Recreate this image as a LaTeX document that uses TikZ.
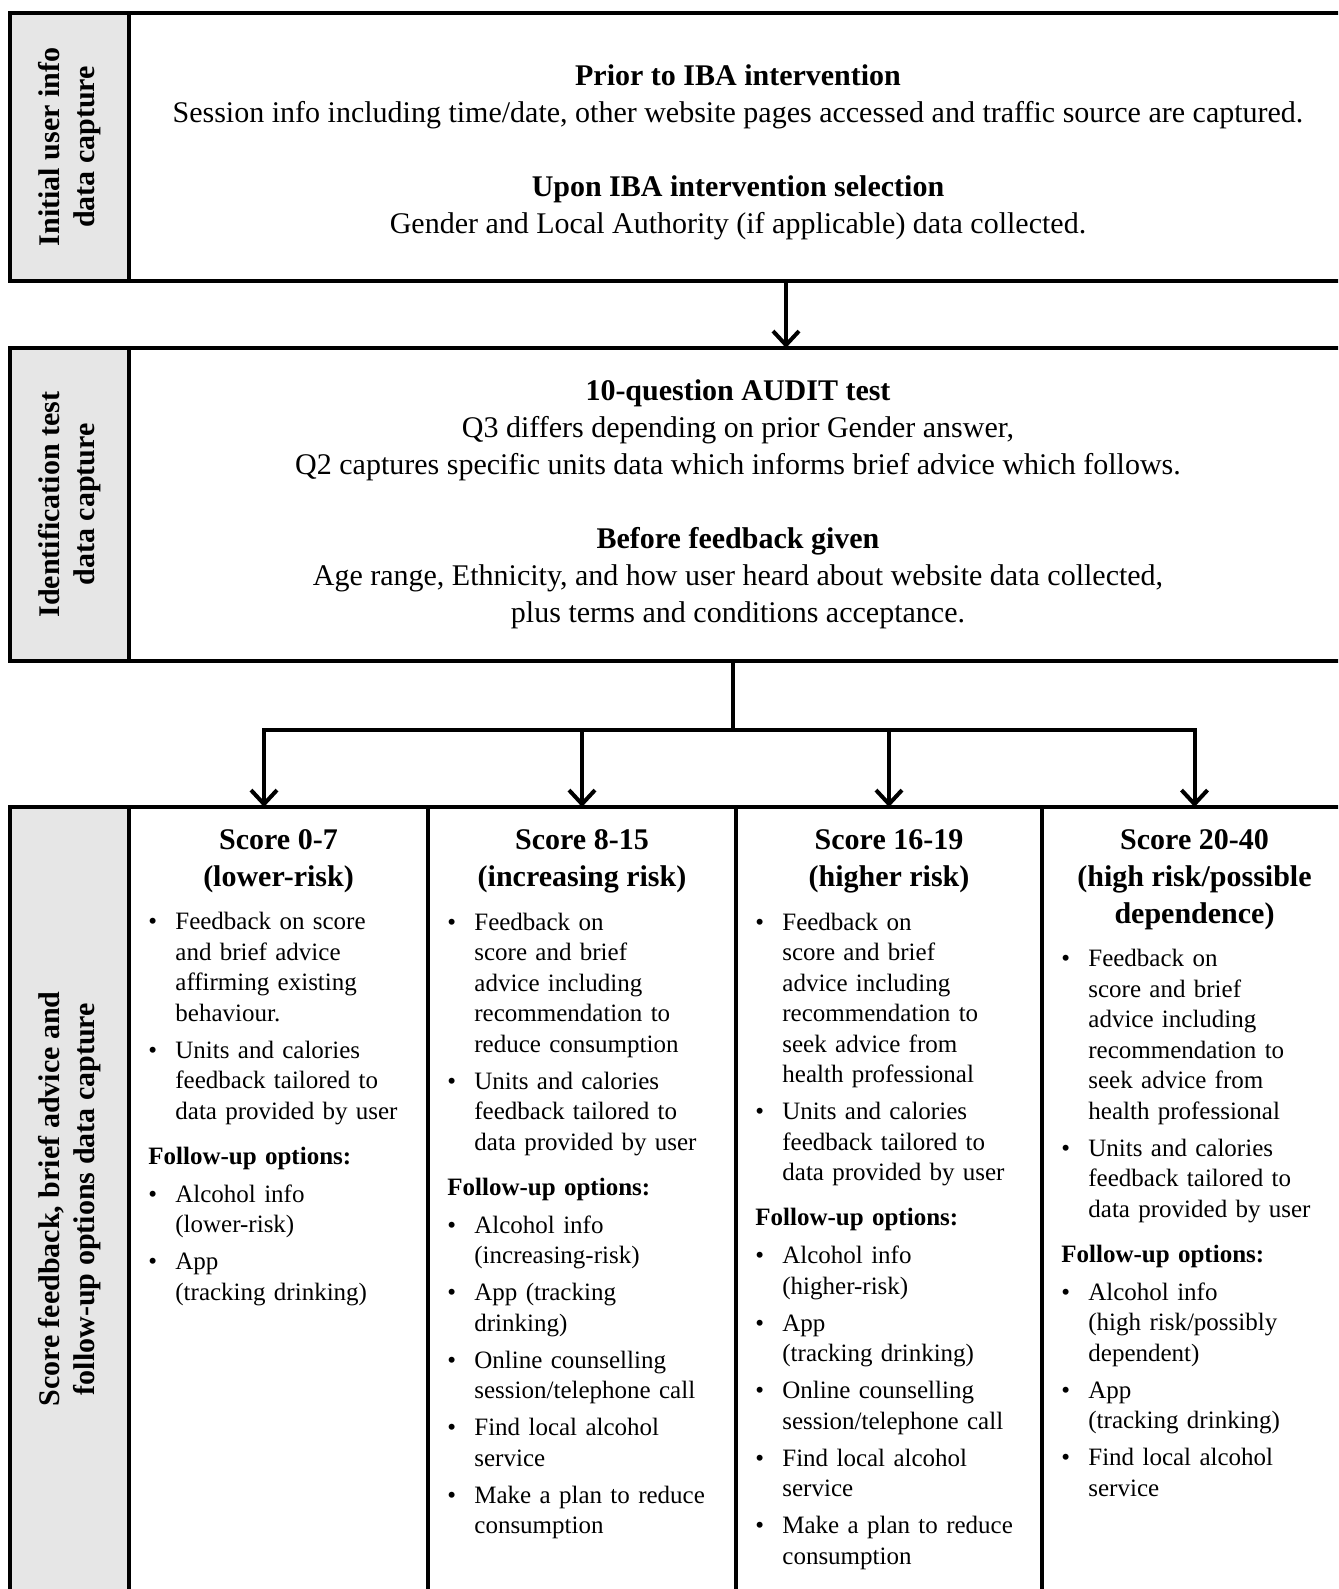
\documentclass[tikz,border=0pt]{standalone}
\usepackage{fontspec}
\setmainfont{Liberation Serif}
\usetikzlibrary{arrows.meta,positioning,calc}
\definecolor{sidegrey}{HTML}{E6E6E6}
\setlength{\parskip}{0pt}

% bullet item and follow-up line in the score columns
\newcommand{\bitem}[1]{{\def\\{\hfil\break}%
  \hangindent=13.5pt\hangafter=1\noindent
  \makebox[13.5pt][l]{\textbullet}\strut#1\strut\par}\vspace{3.25pt}}
\newcommand{\fupopts}{\vspace{4pt}\noindent\textbf{Follow-up options:}\strut\par\vspace{3.75pt}}

\begin{document}
\begin{tikzpicture}[
    x=0.5pt, y=-0.5pt,
    frame/.style={rectangle, draw, line width=2pt, inner sep=0pt, outer sep=0pt},
    sidebox/.style={frame, fill=sidegrey, rotate=90, minimum height=59.5pt,
                    align=center, font=\fontsize{15}{17.5}\selectfont\bfseries},
    mainbox/.style={frame, fill=white, minimum width=609pt, align=center,
                    font=\fontsize{15}{18.5}\selectfont},
    colbox/.style={frame, fill=white, minimum height=392pt},
    head/.style={anchor=north, inner sep=0pt, align=center,
                 font=\fontsize{15}{18.5}\selectfont\bfseries},
    listbox/.style={anchor=north west, inner sep=0pt, text width=140pt,
                    align=left, font=\fontsize{12.5}{15.25}\selectfont},
    line/.style={line width=2pt},
    arrow/.style={line, -{Straight Barb[length=7pt,width=13pt]}}
]
\useasboundingbox (0,0) rectangle (1338,1589);
\clip (0,0) rectangle (1338,1589);
\fill[white] (0,0) rectangle (1338,1589);

% stage boxes
\node[mainbox, minimum height=134pt] (info) at (738,147)
  {\\[-3pt]\textbf{Prior to IBA intervention}\\
   Session info including time/date, other website pages accessed and traffic source are captured.\\[18.5pt]
   \textbf{Upon IBA intervention selection}\\
   Gender and Local Authority (if applicable) data collected.};
\node[mainbox, minimum height=156.5pt, below=33.5pt of info] (audit)
  {\textbf{10-question AUDIT test}\\
   Q3 differs depending on prior Gender answer,\\
   Q2 captures specific units data which informs brief advice which follows.\\[18.5pt]
   \textbf{Before feedback given}\\
   Age range, Ethnicity, and how user heard about website data collected,\\
   plus terms and conditions acceptance.};

\node[sidebox, minimum width=134pt]   (infolab)  at (69.5,147)  {Initial user info\\data capture};
\node[sidebox, minimum width=156.5pt] (auditlab) at (69.5,504.5) {Identification test\\data capture};
\node[sidebox, minimum width=392pt]   (scorelab) at (69.5,1199) {Score feedback, brief advice and\\follow-up options data capture};

% score columns
\node[colbox, minimum width=149.5pt] (low) at (278.5,1199) {};
\node[colbox, minimum width=154pt, right=0pt of low]     (incr)   {};
\node[colbox, minimum width=153pt, right=0pt of incr]    (higher) {};
\node[colbox, minimum width=152.5pt, right=0pt of higher] (high)  {};

\node[head, below=11pt of low.north]    (lowhead)    {Score 0-7\\(lower-risk)};
\node[head, below=11pt of incr.north]   (incrhead)   {Score 8-15\\(increasing risk)};
\node[head, below=11pt of higher.north] (higherhead) {Score 16-19\\(higher risk)};
\node[head, below=11pt of high.north]   (highhead)   {Score 20-40\\(high risk/possible\\dependence)};

\node[listbox] (lowlist) at ($(lowhead.south -| low.west)+(9.5pt,-7.5pt)$) {%
  \bitem{Feedback on score\\and brief advice\\affirming existing\\behaviour.}
  \bitem{Units and calories\\feedback tailored to\\data provided by user}
  \fupopts
  \bitem{Alcohol info\\(lower-risk)}
  \bitem{App\\(tracking drinking)}};
\node[listbox] (incrlist) at ($(incrhead.south -| incr.west)+(9.5pt,-7.5pt)$) {%
  \bitem{Feedback on\\score and brief\\advice including\\recommendation to\\reduce consumption}
  \bitem{Units and calories\\feedback tailored to\\data provided by user}
  \fupopts
  \bitem{Alcohol info\\(increasing-risk)}
  \bitem{App (tracking\\drinking)}
  \bitem{Online counselling\\session/telephone call}
  \bitem{Find local alcohol\\service}
  \bitem{Make a plan to reduce\\consumption}};
\node[listbox] (higherlist) at ($(higherhead.south -| higher.west)+(9.5pt,-7.5pt)$) {%
  \bitem{Feedback on\\score and brief\\advice including\\recommendation to\\seek advice from\\health professional}
  \bitem{Units and calories\\feedback tailored to\\data provided by user}
  \fupopts
  \bitem{Alcohol info\\(higher-risk)}
  \bitem{App\\(tracking drinking)}
  \bitem{Online counselling\\session/telephone call}
  \bitem{Find local alcohol\\service}
  \bitem{Make a plan to reduce\\consumption}};
\node[listbox] (highlist) at ($(highhead.south -| high.west)+(9.5pt,-7.5pt)$) {%
  \bitem{Feedback on\\score and brief\\advice including\\recommendation to\\seek advice from\\health professional}
  \bitem{Units and calories\\feedback tailored to\\data provided by user}
  \fupopts
  \bitem{Alcohol info\\(high risk/possibly\\dependent)}
  \bitem{App\\(tracking drinking)}
  \bitem{Find local alcohol\\service}};

% connectors
\draw[arrow] ([xshift=24pt]info.south) -- ([xshift=24pt]audit.north);
\coordinate (split) at ([xshift=-2.5pt,yshift=-34.5pt]audit.south);
\draw[line] ([xshift=-2.5pt]audit.south) -- (split);
\draw[arrow] (split) -| ([xshift=-7.25pt]low.north);
\draw[arrow] (split) -| (high.north);
\foreach \c in {incr, higher}
    \draw[arrow] (split -| \c.north) -- (\c.north);
\end{tikzpicture}
\end{document}
